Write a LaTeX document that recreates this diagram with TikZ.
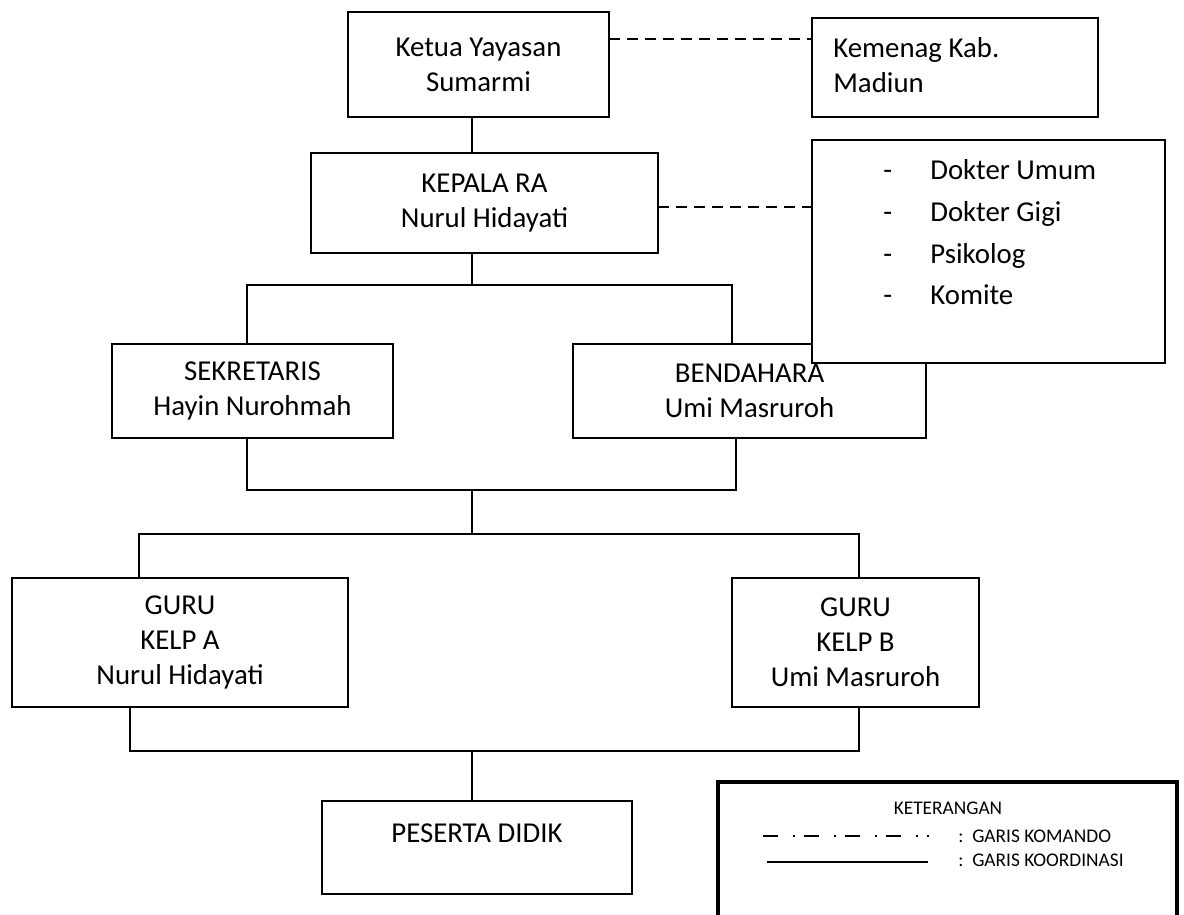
\documentclass[tikz,border=0pt]{standalone}
\usepackage{fontspec}
\setmainfont{Carlito}
\newcommand\mainfs{\fontsize{16.4}{19.8}\selectfont}
\newcommand\legfs{\fontsize{11}{13}\selectfont}
\begin{document}
\begin{tikzpicture}[x=0.02cm,y=-0.02cm,
  box/.style={draw=black, line width=1.1pt, fill=white, inner sep=0pt, outer sep=0pt, align=center, font=\mainfs},
  sz/.style 2 args={minimum width=#1*0.02cm, minimum height=#2*0.02cm},
  txt/.style={inner sep=0pt, font=\mainfs, align=center},
  conn/.style={line width=1.1pt},
  dashconn/.style={line width=1.1pt, dash pattern=on 0.22cm off 0.14cm},
  legtxt/.style={inner sep=0pt, font=\legfs},
  legline/.style={line width=1.2pt},
  legdash/.style={line width=1.2pt, dash pattern=on 0.3cm off 0.3cm on 0.04cm off 0.18cm},
]
\fill[white] (0,0) rectangle (1184,915);
\useasboundingbox (0,0) rectangle (1184,915);

% boxes
\node[box, sz={261}{105}] (ketua) at (478.5,64.5) {Ketua Yayasan\\Sumarmi};
\node[box, sz={286}{99}] (kemenag) at (955,67.5) {};
\node[txt, anchor=base west] (kem1) at (833,58) {Kemenag Kab.};
\node[txt, anchor=base west] (kem2) at (833,93) {Madiun};
\node[box, sz={347}{100}] (kepala) at (484.5,203) {KEPALA RA\\Nurul Hidayati};
\node[box, sz={281}{94}] (sek) at (252.5,391) {SEKRETARIS\\Hayin Nurohmah};
\node[box, sz={353}{94}] (bend) at (749.5,391) {BENDAHARA\\Umi Masruroh};
\node[box, sz={353}{223}] (dokter) at (988.5,251.5) {};
\node[txt, anchor=base west] (it1) at (883,180) {\makebox[0.94cm][l]{-}Dokter Umum};
\node[txt, anchor=base west] (it2) at (883,222) {\makebox[0.94cm][l]{-}Dokter Gigi};
\node[txt, anchor=base west] (it3) at (883,264) {\makebox[0.94cm][l]{-}Psikolog};
\node[txt, anchor=base west] (it4) at (883,305) {\makebox[0.94cm][l]{-}Komite};
\node[box, sz={336}{129}] (gurua) at (180,642.5) {GURU\\KELP A\\Nurul Hidayati};
\node[box, sz={247}{129}] (gurub) at (855.5,642.5) {GURU\\KELP B\\Umi Masruroh};
\node[box, sz={310}{93}] (peserta) at (477,847.5) {};
\node[txt] (pestxt) at (477,833) {PESERTA DIDIK};

% junction coordinates
\coordinate (yk) at (0,39);
\coordinate (yd) at (0,207);
\coordinate (xm) at (472,0);
\coordinate (h1) at (472,285);
\coordinate (h2) at (472,490);
\coordinate (h3) at (472,534);
\coordinate (h4) at (472,751);
\coordinate (xs) at (247,0);
\coordinate (xb) at (732,0);
\coordinate (xb2) at (736,0);
\coordinate (xa) at (139,0);
\coordinate (xa2) at (130,0);
\coordinate (xg) at (859,0);

% connectors
\draw[dashconn] (ketua.east |- yk) -- (kemenag.west |- yk);
\draw[dashconn] (kepala.east |- yd) -- (dokter.west |- yd);
\draw[conn] (ketua.south -| xm) -- (kepala.north -| xm);
\draw[conn] (kepala.south -| xm) -- (h1);
\draw[conn] (sek.north -| xs) |- (h1) -| (bend.north -| xb);
\draw[conn] (sek.south -| xs) |- (h2) -| (bend.south -| xb2);
\draw[conn] (h2) -- (h3);
\draw[conn] (gurua.north -| xa) |- (h3) -| (gurub.north -| xg);
\draw[conn] (gurua.south -| xa2) |- (h4) -| (gurub.south -| xg);
\draw[conn] (h4) -- (peserta.north -| h4);

% legend
\draw[line width=2.8pt] (718,925) -- (718,782) -- (1177,782) -- (1177,925);
\node[legtxt] (ket) at (948,808) {KETERANGAN};
\coordinate (l1a) at (763,836);
\coordinate (l1b) at (929,836);
\draw[legdash] (l1a) -- (l1b);
\node[legtxt, anchor=west] (kom) at (958,836) {:\ \ GARIS KOMANDO};
\coordinate (l2a) at (767,862);
\coordinate (l2b) at (928,862);
\draw[legline] (l2a) -- (l2b);
\node[legtxt, anchor=west] (koor) at (958,860) {:\ \ GARIS KOORDINASI};
\end{tikzpicture}
\end{document}
